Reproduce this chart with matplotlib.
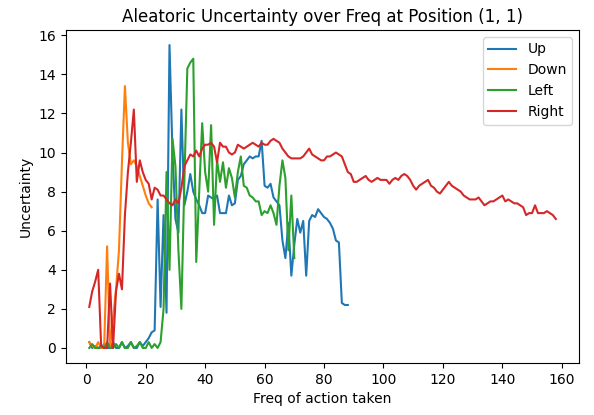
import numpy as np
import matplotlib
matplotlib.use('Agg')
from matplotlib import pyplot as plt

# uncertainty per action, indexed by how often the action was taken
up = [0.3, 0.0, 0.1, 0.0, 0.0, 0.2, 0.0, 0.0, 0.3, 0.0,
      0.0, 0.3, 0.0, 0.1, 0.3, 0.0, 0.0, 0.3, 0.1, 0.3,
      0.5, 0.8, 0.9, 7.6, 2.1, 6.8, 1.8, 15.5, 10.0, 6.6,
      5.9, 12.2, 7.3, 8.0, 8.9, 8.0, 7.6, 7.3, 6.9, 6.9,
      7.8, 7.7, 7.6, 7.8, 6.9, 6.9, 6.9, 7.8, 7.3, 7.4,
      8.6, 8.8, 9.4, 9.6, 9.8, 9.7, 9.8, 9.8, 10.6, 8.3,
      8.2, 8.4, 7.7, 7.5, 7.3, 5.5, 4.6, 6.4, 3.7, 5.3,
      6.6, 5.9, 6.5, 3.7, 6.5, 6.8, 6.7, 7.1, 6.9, 6.7,
      6.6, 6.4, 6.1, 5.5, 5.4, 2.3, 2.2, 2.2]
down = [0.3, 0.1, 0.0, 0.3, 0.0, 0.0, 5.2, 0.1, 1.5, 3.0,
        5.0, 9.5, 13.4, 10.5, 9.4, 9.6, 9.3, 8.8, 8.3, 7.8,
        7.4, 7.2]
left = [0.0, 0.2, 0.0, 0.0, 0.1, 0.0, 0.3, 0.0, 0.0, 0.2,
        0.0, 0.3, 0.0, 0.0, 0.3, 0.0, 0.1, 0.3, 0.0, 0.0,
        0.3, 0.0, 0.2, 0.0, 0.3, 2.0, 9.0, 4.0, 10.7, 9.3,
        5.0, 2.0, 8.5, 14.3, 14.6, 14.8, 4.4, 8.0, 11.5, 9.0,
        8.0, 11.4, 6.3, 9.6, 8.5, 9.5, 8.2, 9.2, 8.7, 7.7,
        9.0, 9.8, 8.3, 8.2, 7.8, 7.7, 7.5, 7.5, 6.8, 7.0,
        6.9, 7.3, 6.9, 6.3, 8.3, 9.6, 8.7, 5.0, 7.8, 4.6]
right = [2.1, 2.9, 3.4, 4.0, 0.1, 0.0, 0.0, 3.3, 0.0, 2.9,
         3.8, 3.0, 6.8, 9.0, 10.5, 12.2, 8.5, 9.6, 9.0, 8.6,
         8.4, 7.6, 8.2, 8.1, 7.8, 7.8, 7.6, 7.4, 7.3, 7.6,
         7.4, 8.2, 9.3, 9.6, 9.9, 9.8, 10.1, 9.8, 10.2, 10.4,
         10.4, 10.5, 10.3, 9.5, 10.5, 10.3, 10.3, 10.0, 9.9, 10.0,
         10.4, 10.3, 10.2, 10.3, 10.4, 10.5, 10.4, 10.3, 10.5, 10.4,
         10.4, 10.6, 10.7, 10.6, 10.5, 10.2, 10.0, 9.8, 9.7, 9.7,
         9.7, 9.7, 9.8, 10.0, 10.2, 9.9, 9.8, 9.7, 9.6, 9.6,
         9.8, 9.8, 9.9, 10.0, 9.9, 9.8, 9.4, 9.0, 8.9, 8.5,
         8.5, 8.6, 8.7, 8.8, 8.6, 8.5, 8.6, 8.7, 8.6, 8.6,
         8.6, 8.4, 8.6, 8.7, 8.6, 8.8, 8.9, 8.8, 8.6, 8.3,
         8.1, 8.3, 8.4, 8.5, 8.6, 8.3, 8.2, 8.0, 7.9, 8.1,
         8.3, 8.5, 8.3, 8.2, 8.1, 8.0, 7.8, 7.7, 7.6, 7.6,
         7.6, 7.7, 7.5, 7.3, 7.4, 7.5, 7.5, 7.6, 7.7, 7.8,
         7.5, 7.6, 7.5, 7.4, 7.4, 7.3, 7.2, 6.8, 6.9, 6.9,
         7.3, 6.9, 6.9, 6.9, 7.0, 6.9, 6.8, 6.6]

series = [up, down, left, right]
labels = ['Up', 'Down', 'Left', 'Right']

fig = plt.figure(figsize=(5.94, 4.15), dpi=100)
ax = fig.add_axes([0.111, 0.125, 0.864, 0.803])
for vals, lab in zip(series, labels):
    ax.plot(np.arange(1, len(vals) + 1), vals, label=lab)
ax.set_title('Aleatoric Uncertainty over Freq at Position (1, 1)')
ax.set_xlabel('Freq of action taken')
ax.set_ylabel('Uncertainty')
ax.set_xticks(np.arange(0, 161, 20))
ax.set_yticks(np.arange(0, 17, 2))
ax.legend(loc='upper right')
fig.savefig('out.png', dpi=100)
